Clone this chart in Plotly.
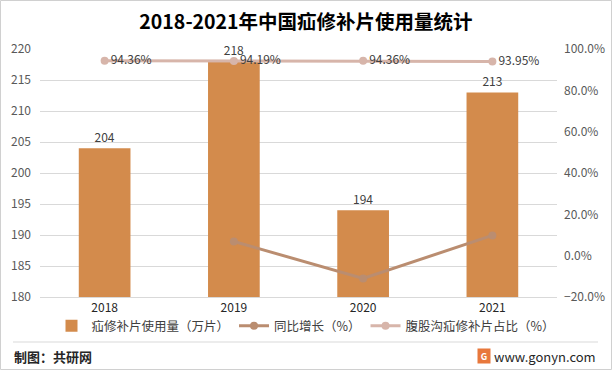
import plotly.graph_objects as go

years = ["2018", "2019", "2020", "2021"]
usage = [204, 218, 194, 213]              # 万片
growth = [None, 6.86, -11.01, 9.79]        # %
ratio = [94.36, 94.19, 94.36, 93.95]       # %

FONT = "Noto Sans CJK SC, Liberation Sans, sans-serif"
BAR = "rgb(211,139,76)"
GROWTH = "rgb(186,141,112)"
RATIO = "rgb(215,181,170)"

fig = go.Figure()
fig.add_trace(go.Bar(
    x=years, y=usage, name="疝修补片使用量（万片）",
    marker=dict(color=BAR, line=dict(width=0)),
    text=[str(v) for v in usage], textposition="outside",
    textfont=dict(size=12, color="#404040", family=FONT),
    cliponaxis=False, width=0.4,
))
fig.add_trace(go.Scatter(
    x=years, y=[None if g is None else g / 100 for g in growth],
    name="同比增长（%）", yaxis="y2", mode="lines+markers",
    line=dict(color=GROWTH, width=3), marker=dict(size=8, color=GROWTH),
))
fig.add_trace(go.Scatter(
    x=years, y=[r / 100 for r in ratio],
    name="腹股沟疝修补片占比（%）", yaxis="y2", mode="lines+markers+text",
    line=dict(color=RATIO, width=3), marker=dict(size=8, color=RATIO),
    text=[f"{r:.2f}%" for r in ratio], textposition="middle right",
    textfont=dict(size=12, color="#404040", family=FONT), cliponaxis=False,
))

L, R, T, B = 40, 55, 49, 73
W, H = 612, 370
pw, ph = W - L - R, H - T - B
def px(x): return (x - L) / pw
def py(y): return (H - B - y) / ph

fig.update_layout(
    width=W, height=H,
    margin=dict(l=L, r=R, t=T, b=B, autoexpand=False),
    paper_bgcolor="white", plot_bgcolor="white",
    font=dict(family=FONT, size=12, color="#595959"),
    title=dict(text="<b>2018-2021年中国疝修补片使用量统计</b>", x=0.5, xanchor="center",
               y=1 - 22 / H, yanchor="middle",
               font=dict(size=19.5, color="#000000", family=FONT)),
    bargap=0.6,
    xaxis=dict(type="category", showline=True, linecolor="#d9d9d9", linewidth=1,
               ticks="", automargin=False,
               tickfont=dict(size=12, color="#262626", family=FONT)),
    yaxis=dict(range=[180, 220], dtick=5, showgrid=True, gridcolor="#d9d9d9",
               gridwidth=1, zeroline=False, showline=False, ticks="", automargin=False,
               ticklabelstandoff=8, tickfont=dict(size=12, color="#595959")),
    yaxis2=dict(range=[-0.2, 1.0], dtick=0.2, tickformat=".1%", overlaying="y",
                side="right", showgrid=False, zeroline=False, showline=False,
                ticks="", automargin=False, ticklabelstandoff=6,
                tickfont=dict(size=12, color="#595959")),
    legend=dict(orientation="h", x=px(306), xanchor="center", y=py(326), yanchor="middle",
                font=dict(size=12.5, color="#404040", family=FONT), itemwidth=30,
                traceorder="normal", bgcolor="rgba(0,0,0,0)"),
    showlegend=True,
    shapes=[
        dict(type="line", xref="paper", yref="paper", x0=px(13), x1=px(598),
             y0=py(342), y1=py(342), line=dict(color="#d9d9d9", width=1)),
        dict(type="rect", xref="paper", yref="paper", x0=px(0.5), x1=px(611.5),
             y0=py(369.5), y1=py(0.5), line=dict(color="#d0d0d0", width=1)),
    ],
    annotations=[
        dict(text="<b>制图：共研网</b>", xref="paper", yref="paper", x=px(12), y=py(356),
             xanchor="left", yanchor="middle", showarrow=False,
             font=dict(size=13, color="#262626", family=FONT)),
        dict(text="<b>G</b>", xref="paper", yref="paper", x=px(484), y=py(356),
             xanchor="center", yanchor="middle", showarrow=False, bgcolor="rgb(232,120,60)",
             font=dict(size=9, color="white", family=FONT), width=10, height=12),
        dict(text="www.gonyn.com", xref="paper", yref="paper", x=px(598), y=py(356),
             xanchor="right", yanchor="middle", showarrow=False,
             font=dict(size=13, color="#262626", family=FONT)),
    ],
)

fig.write_html("out.html", config={"displayModeBar": False},
               post_script="document.body.style.margin='0';document.body.style.overflow='hidden';")
